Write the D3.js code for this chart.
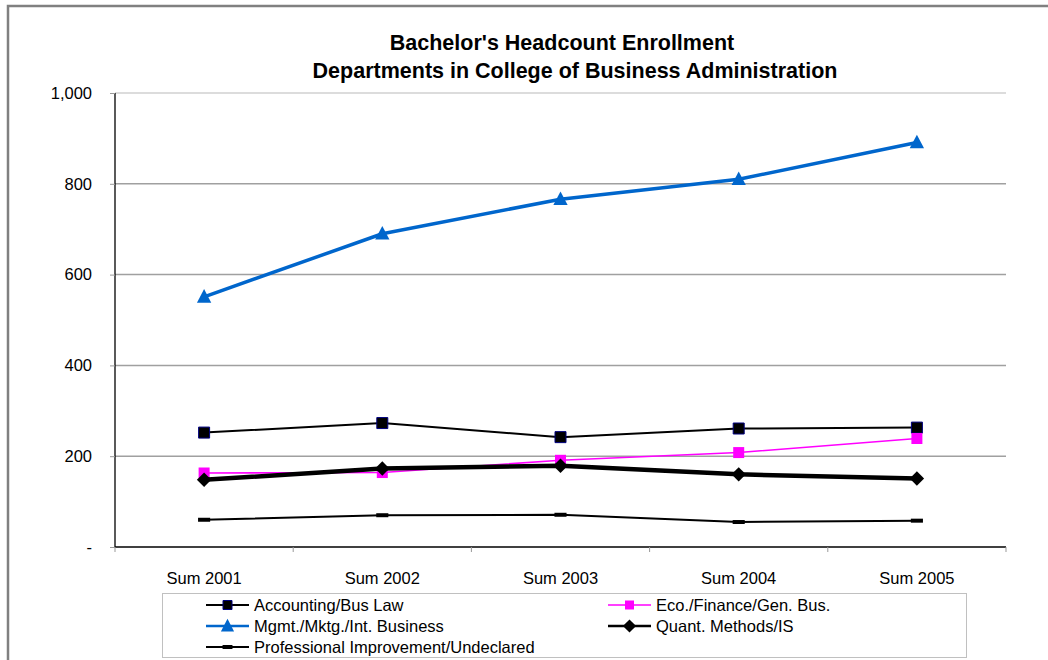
<!DOCTYPE html>
<html><head><meta charset="utf-8">
<script src="https://cdn.jsdelivr.net/npm/d3@7"></script>
<style>body{margin:0;background:#fff;}svg{display:block;font-family:"Liberation Sans",Arial,sans-serif;}</style>
</head><body><svg id="c" width="1048" height="660"></svg>
<script>
const categories = ["Sum 2001","Sum 2002","Sum 2003","Sum 2004","Sum 2005"];
const accounting = [252, 273, 242, 261, 263];
const ecoFinance = [163, 164, 191, 208, 239];
const mgmt = [551, 690, 766, 810, 891];
const quant = [148, 173, 179, 160, 151];
const profImprove = [60, 70, 71, 55, 58];
const yTicks = [0, 200, 400, 600, 800, 1000];
const titleLines = ["Bachelor's Headcount Enrollment", "Departments in College of Business Administration"];

const series = [
  {name:"Accounting/Bus Law", values:accounting, color:"#000", width:2, marker:"square", mfill:"#000", mstroke:"#000080"},
  {name:"Eco./Finance/Gen. Bus.", values:ecoFinance, color:"#FF00FF", width:1.6, marker:"square", mfill:"#FF00FF", mstroke:"none"},
  {name:"Mgmt./Mktg./Int. Business", values:mgmt, color:"#0066CC", width:3.5, marker:"triangle", mfill:"#0066CC", mstroke:"none"},
  {name:"Quant. Methods/IS", values:quant, color:"#000", width:4.5, marker:"diamond", mfill:"#000", mstroke:"none"},
  {name:"Professional Improvement/Undeclared", values:profImprove, color:"#000", width:2, marker:"dash", mfill:"#000", mstroke:"none"}
];

const svg = d3.select("#c");
// outer chart border
svg.append("path").attr("d","M8,660 L8,6 L1048,6").attr("fill","none").attr("stroke","#808080").attr("stroke-width",2.5);

const L=115, R=1006, T=93, B=547;
const x = d3.scaleBand().domain(categories).range([L,R]);
const y = d3.scaleLinear().domain([0,1000]).range([B,T]);

// gridlines
svg.append("g").selectAll("line").data(yTicks.filter(d=>d>0)).join("line")
  .attr("x1",L).attr("x2",R).attr("y1",d=>y(d)).attr("y2",d=>y(d))
  .attr("stroke",d=>d===1000?"#d0d0d0":"#a0a0a0").attr("stroke-width",1.5);

// y axis
const yAxis = d3.axisLeft(y).tickValues(yTicks).tickSize(5).tickPadding(18)
  .tickFormat(d=>d===0?"-":d3.format(",")(d));
const gy = svg.append("g").attr("transform",`translate(${L},0)`).call(yAxis);
gy.select(".domain").attr("stroke","#000").attr("stroke-width",1.3).attr("d",`M0,${T}V${B}`);
gy.selectAll(".tick line").attr("stroke","#999");
gy.selectAll(".tick text").attr("font-size","16.5px").attr("fill","#000").attr("font-family","Liberation Sans, Arial");

// x axis
const bounds = categories.map(c=>x(c)).concat([R]);
svg.append("line").attr("x1",L).attr("x2",R).attr("y1",B).attr("y2",B).attr("stroke","#000").attr("stroke-width",1.3);
svg.append("g").selectAll("line").data(bounds).join("line")
  .attr("x1",d=>d).attr("x2",d=>d).attr("y1",B).attr("y2",B+5).attr("stroke","#999");
svg.append("g").selectAll("text").data(categories).join("text")
  .attr("x",c=>x(c)+x.bandwidth()/2).attr("y",B+37).attr("text-anchor","middle")
  .attr("font-size","16.5px").text(c=>c);

// title
svg.append("g").selectAll("text").data(titleLines).join("text")
  .attr("x",(d,i)=>i===0?562:575).attr("y",(d,i)=>50+i*28).attr("text-anchor","middle")
  .attr("font-size","21.5px").attr("font-weight","bold").text(d=>d);

function markerPath(type, s){
  if(type==="square") return d3.symbol(d3.symbolSquare, s*s)();
  if(type==="triangle") return `M0,${-s*0.6}L${s*0.55},${s*0.45}L${-s*0.55},${s*0.45}Z`;
  if(type==="diamond") return `M0,${-s*0.6}L${s*0.6},0L0,${s*0.6}L${-s*0.6},0Z`;
  if(type==="dash") return `M${-s*0.55},-2L${s*0.55},-2L${s*0.55},2L${-s*0.55},2Z`;
}
const line = d3.line().x((d,i)=>x(categories[i])+x.bandwidth()/2).y(d=>y(d));

series.forEach(s=>{
  const g = svg.append("g");
  g.append("path").datum(s.values).attr("d",line).attr("fill","none")
    .attr("stroke",s.color).attr("stroke-width",s.width).attr("stroke-linejoin","round");
  g.selectAll("path.m").data(s.values).join("path").attr("class","m")
    .attr("transform",(d,i)=>`translate(${x(categories[i])+x.bandwidth()/2},${y(d)})`)
    .attr("d",markerPath(s.marker, s.marker==="triangle"?13:(s.marker==="diamond"?12:11)))
    .attr("fill",s.mfill).attr("stroke",s.mstroke).attr("stroke-width",1);
});

// legend
const lg = svg.append("g");
lg.append("rect").attr("x",162.5).attr("y",593.5).attr("width",804).attr("height",64)
  .attr("fill","#fff").attr("stroke","#c0c0c0");
const pos = [[206,605],[608,605],[206,626],[608,626],[206,647]];
series.forEach((s,i)=>{
  const [lx,ly]=pos[i];
  lg.append("line").attr("x1",lx).attr("x2",lx+43).attr("y1",ly).attr("y2",ly)
    .attr("stroke",s.color).attr("stroke-width",Math.min(s.width,2.5));
  lg.append("path").attr("transform",`translate(${lx+21.5},${ly})`)
    .attr("d",markerPath(s.marker, s.marker==="triangle"?12:(s.marker==="diamond"?11:9)))
    .attr("fill",s.mfill).attr("stroke",s.mstroke);
  lg.append("text").attr("x",lx+48).attr("y",ly+5.5).attr("font-size","16.5px").text(s.name);
});
</script></body></html>
